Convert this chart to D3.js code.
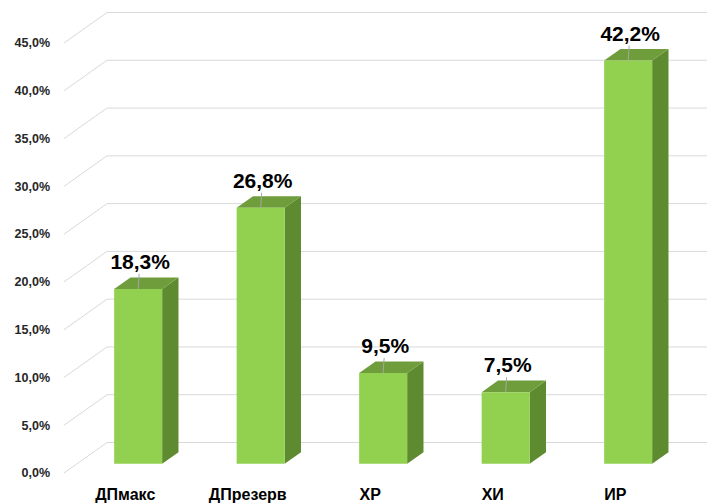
<!DOCTYPE html>
<html>
<head>
<meta charset="utf-8">
<script src="https://cdn.jsdelivr.net/npm/d3@7"></script>
<style>
  body { margin: 0; background: #fff; }
  text { font-family: "Liberation Sans", Arial, sans-serif; font-weight: bold; }
</style>
</head>
<body>
<script>
const categories = ["ДПмакс", "ДПрезерв", "ХР", "ХИ", "ИР"];
const values = [18.3, 26.8, 9.5, 7.5, 42.2];
const tickValues = [0, 5, 10, 15, 20, 25, 30, 35, 40, 45];

const width = 707, height = 503;
const DX = 43, DY = 30.5;          // depth offset of the back wall
const t0 = 0.3, t1 = 0.68;         // bar front / back depth (0 = front, 1 = back)

const svg = d3.select("body")
  .append("svg")
  .attr("width", width)
  .attr("height", height);

const locale = d3.formatLocale({decimal: ",", thousands: " ", grouping: [3], currency: ["", ""]});
const fmt = locale.format(".1f");

const x = d3.scaleBand()
  .domain(categories)
  .range([64, 676.5])
  .padding(0);

const y = d3.scaleLinear()
  .domain([0, 45])
  .range([473, 43]);

const proj = (px, py, t) => [px + DX * t, py - DY * t];

// walls: side wall diagonals + back wall lines
const grid = svg.append("g").attr("stroke", "#d9d9d9").attr("stroke-width", 1).attr("fill", "none");
tickValues.forEach(v => {
  const a = proj(x.range()[0], y(v), 0);
  const b = proj(x.range()[0], y(v), 1);
  grid.append("line")
    .attr("x1", a[0]).attr("y1", a[1])
    .attr("x2", b[0]).attr("y2", b[1]);
  grid.append("line")
    .attr("x1", b[0]).attr("y1", b[1])
    .attr("x2", width + 20).attr("y2", b[1]);
});

// y tick labels
svg.append("g")
  .selectAll("text")
  .data(tickValues)
  .join("text")
  .attr("x", 50)
  .attr("y", d => y(d))
  .attr("dy", "0.35em")
  .attr("text-anchor", "end")
  .attr("font-size", "12.5px")
  .attr("fill", "#262626")
  .text(d => fmt(d) + "%");

// bars
const barW = 48;
const bars = svg.append("g")
  .selectAll("g")
  .data(categories.map((c, i) => ({c, v: values[i]})))
  .join("g");

const pts = (d) => {
  const cx = x(d.c) + x.bandwidth() / 2;
  const xl = cx - barW / 2, xr = cx + barW / 2;
  return {
    fbl: proj(xl, y(0), t0), fbr: proj(xr, y(0), t0),
    ftl: proj(xl, y(d.v), t0), ftr: proj(xr, y(d.v), t0),
    btl: proj(xl, y(d.v), t1), btr: proj(xr, y(d.v), t1),
    bbr: proj(xr, y(0), t1),
    fc: proj(cx, y(d.v), t0)
  };
};
const poly = arr => arr.map(p => p.join(",")).join(" ");

bars.append("polygon")
  .attr("points", d => { const p = pts(d); return poly([p.fbr, p.ftr, p.btr, p.bbr]); })
  .attr("fill", "#5e8a30");
bars.append("polygon")
  .attr("points", d => { const p = pts(d); return poly([p.ftl, p.ftr, p.btr, p.btl]); })
  .attr("fill", "#6f9d3b");
bars.append("polygon")
  .attr("points", d => { const p = pts(d); return poly([p.fbl, p.fbr, p.ftr, p.ftl]); })
  .attr("fill", "#92d050");

// leader lines + value labels
bars.append("line")
  .attr("x1", d => pts(d).fc[0])
  .attr("y1", d => pts(d).fc[1])
  .attr("x2", d => pts(d).fc[0] + 1)
  .attr("y2", d => pts(d).fc[1] - 15)
  .attr("stroke", "#a6a6a6")
  .attr("stroke-width", 1);

bars.append("text")
  .attr("x", d => pts(d).fc[0] + 2)
  .attr("y", d => pts(d).fc[1] - 20)
  .attr("text-anchor", "middle")
  .attr("font-size", "21px")
  .attr("fill", "#000")
  .text(d => fmt(d.v) + "%");

// category labels
svg.append("g")
  .selectAll("text")
  .data(categories)
  .join("text")
  .attr("x", d => x(d) + x.bandwidth() / 2)
  .attr("y", 500)
  .attr("text-anchor", "middle")
  .attr("font-size", "16px")
  .attr("fill", "#000")
  .text(d => d);
</script>
</body>
</html>
